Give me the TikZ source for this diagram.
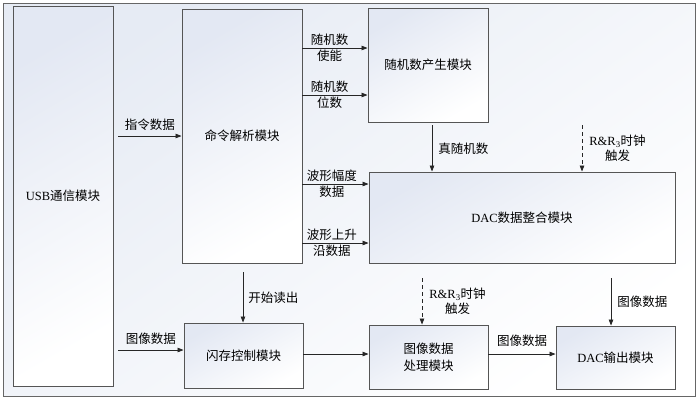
\documentclass[tikz,border=0pt]{standalone}
\usepackage{fontspec}
\setmainfont{Liberation Serif}
\newfontfamily\cjk{Noto Sans CJK SC}
\newcommand\en[1]{{\rmfamily #1}}
\usetikzlibrary{arrows.meta,calc}
\definecolor{bgA}{HTML}{E6EBF4}
\definecolor{boxA}{HTML}{E3E8F3}
\definecolor{edge}{HTML}{555555}
\begin{document}
\begin{tikzpicture}[x=1pt,y=-1pt,
  every node/.style={font=\fontsize{12.5pt}{15pt}\selectfont\cjk},
  blk/.style={draw=edge,line width=0.9pt,shade,top color=boxA,bottom color=white,shading angle=30,align=center,inner sep=0pt},
  arr/.style={line width=0.8pt,draw=black!85,-{Triangle[length=6pt,width=4.5pt]}},
  darr/.style={arr,dashed,dash pattern=on 4pt off 3pt},
  lbl/.style={inner sep=1pt,align=center}]
\useasboundingbox (0,0) rectangle (700,400);
\shade[top color=bgA,bottom color=white,shading angle=35] (3,3) rectangle (695,396);
\draw[draw=black!60,line width=1pt] (3,3) rectangle (695,396);
% boxes
\node[blk,minimum width=100pt,minimum height=380pt] (usb) at (63,196) {\en{USB}通信模块};
\node[blk,minimum width=120pt,minimum height=254pt] (cmd) at (242,136) {命令解析模块};
\node[blk,minimum width=120pt,minimum height=114pt] (rnd) at (428,65) {随机数产生模块};
\node[blk,minimum width=306pt,minimum height=91pt] (dacint) at (522,217.5) {\en{DAC}数据整合模块};
\node[blk,minimum width=119pt,minimum height=65pt] (flash) at (243.5,355.5) {闪存控制模块};
\node[blk,minimum width=119pt,minimum height=64pt] (img) at (428.5,357) {图像数据\\[2pt]处理模块};
\node[blk,minimum width=119pt,minimum height=63pt] (dacout) at (615.5,357.5) {\en{DAC}输出模块};
% coordinates
\coordinate (c1) at (302,48);
\coordinate (c2) at (302,95);
\coordinate (c3) at (302,184);
\coordinate (c4) at (302,243);
\coordinate (u1) at (118,136);
\coordinate (u2) at (118,350);
\coordinate (d1) at (582,125);
\coordinate (d2) at (422,278);
% arrows
\draw[arr] (u1) -- (cmd.west |- u1) node[lbl,midway,above=4pt] {指令数据};
\draw[arr] (u2) -- (flash.west |- u2) node[lbl,midway,above=4pt] {图像数据};
\draw[arr] (c1) -- (rnd.west |- c1) node[lbl,pos=0.42,above=1pt] {随机数} node[lbl,pos=0.42,below=1pt] {使能};
\draw[arr] (c2) -- (rnd.west |- c2) node[lbl,pos=0.42,above=1pt] {随机数} node[lbl,pos=0.42,below=1pt] {位数};
\draw[arr] (c3) -- (dacint.west |- c3) node[lbl,pos=0.45,above=1pt] {波形幅度} node[lbl,pos=0.45,below=1pt] {数据};
\draw[arr] (c4) -- (dacint.west |- c4) node[lbl,pos=0.45,above=1pt] {波形上升} node[lbl,pos=0.45,below=1pt] {沿数据};
\draw[arr] ($(rnd.south)+(4,3)$) coordinate (r0) -- (r0 |- dacint.north) node[lbl,midway,right=5pt] {真随机数};
\draw[darr] (d1) -- (d1 |- dacint.north) node[lbl,midway,right=6pt] {\en{R\&R\textsubscript{3}}时钟\\触发};
\draw[arr] ($(cmd.south)+(1,9)$) coordinate (s0) -- (s0 |- flash.north) node[lbl,midway,right=4pt] {开始读出};
\draw[arr] (flash.east |- 0,354) -- (img.west |- 0,354);
\draw[darr] (d2) -- (d2 |- img.north) node[lbl,midway,right=6pt] {\en{R\&R\textsubscript{3}}时钟\\触发};
\draw[arr] (img.east |- 0,354) -- (dacout.west |- 0,354) node[lbl,midway,above=6pt] {图像数据};
\draw[arr] ($(dacint.south)+(89,15)$) coordinate (t0) -- (t0 |- dacout.north) node[lbl,midway,right=5pt] {图像数据};
\end{tikzpicture}
\end{document}
